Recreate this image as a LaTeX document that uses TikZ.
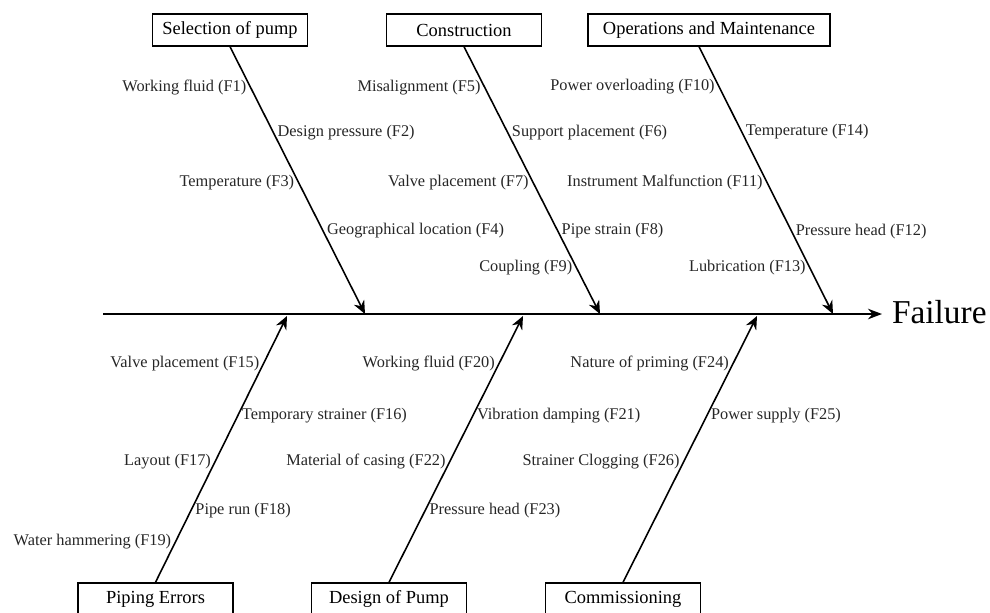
\documentclass[tikz,border=0pt]{standalone}
\usepackage{fontspec}
\setmainfont{Liberation Serif}
\usetikzlibrary{arrows.meta, positioning}

\begin{document}
\begin{tikzpicture}[x=0.02cm, y=-0.02cm,
            cause/.style={draw, line width=0.8pt, minimum width=3.1cm, minimum height=0.64cm, inner sep=2pt, font=\fontsize{10.5}{12}\selectfont},
            factor/.style={inner sep=2pt, text=black!85, font=\fontsize{9.3}{11}\selectfont},
            bone/.style={line width=0.9pt, -{Stealth[length=7.5pt, width=6.5pt]}}]
            % Invisible bounding box for the page size
            \path[use as bounding box] (0,0) rectangle (990,612);

            % spine and effect
            \coordinate (tail) at (103,314);
            \node[anchor=west, inner xsep=5.5pt, inner ysep=0pt, font=\fontsize{19}{22}\selectfont] (failure) at (882,312) {Failure};
            \draw[bone, line width=1pt, -{Stealth[length=8pt, width=6pt]}] (tail) -- (tail -| failure.west);

            \coordinate (j1) at (365,314);
            \coordinate (j2) at (600,314);
            \coordinate (j3) at (833,314);
            \coordinate (j4) at (287,316);
            \coordinate (j5) at (523,316);
            \coordinate (j6) at (757,316);

            % causes
            \node[cause] (sel) at (230,30) {Selection of pump};
            \node[cause] (con) at (464,30) {Construction};
            \node[cause, minimum width=4.84cm] (om) at (709,30) {Operations and Maintenance};
            \node[cause] (pip) at (155.5,599) {Piping Errors};
            \node[cause] (dsg) at (389,599) {Design of Pump};
            \node[cause] (com) at (623,599) {Commissioning};

            % top bones
            \draw[bone] (sel.south) --
                node[factor, pos=.153, left] (f1) {Working fluid (F1)}
                node[factor, pos=.321, right] (f2) {Design pressure (F2)}
                node[factor, pos=.507, left] (f3) {Temperature (F3)}
                node[factor, pos=.687, right] (f4) {Geographical location (F4)} (j1);
            \draw[bone] (con.south) --
                node[factor, pos=.153, left] (f5) {Misalignment (F5)}
                node[factor, pos=.321, right] (f6) {Support placement (F6)}
                node[factor, pos=.507, left] (f7) {Valve placement (F7)}
                node[factor, pos=.687, right] (f8) {Pipe strain (F8)}
                node[factor, pos=.828, left] (f9) {Coupling (F9)} (j2);
            \draw[bone] ([xshift=-0.2cm]om.south) --
                node[factor, pos=.149, left] (f10) {Power overloading (F10)}
                node[factor, pos=.317, right] (f14) {Temperature (F14)}
                node[factor, pos=.507, left] (f11) {Instrument Malfunction (F11)}
                node[factor, pos=.690, right] (f12) {Pressure head (F12)}
                node[factor, pos=.828, left] (f13) {Lubrication (F13)} (j3);

            % bottom bones
            \draw[bone] (pip.north) --
                node[factor, pos=.822, left] (f15) {Valve placement (F15)}
                node[factor, pos=.625, right] (f16) {Temporary strainer (F16)}
                node[factor, pos=.454, left] (f17) {Layout (F17)}
                node[factor, pos=.271, right] (f18) {Pipe run (F18)}
                node[factor, pos=.152, left] (f19) {Water hammering (F19)} (j4);
            \draw[bone] (dsg.north) --
                node[factor, pos=.822, left] (f20) {Working fluid (F20)}
                node[factor, pos=.625, right] (f21) {Vibration damping (F21)}
                node[factor, pos=.454, left] (f22) {Material of casing (F22)}
                node[factor, pos=.271, right] (f23) {Pressure head (F23)} (j5);
            \draw[bone] (com.north) --
                node[factor, pos=.822, left] (f24) {Nature of priming (F24)}
                node[factor, pos=.625, right] (f25) {Power supply (F25)}
                node[factor, pos=.454, left] (f26) {Strainer Clogging (F26)} (j6);
        \end{tikzpicture}
\end{document}
